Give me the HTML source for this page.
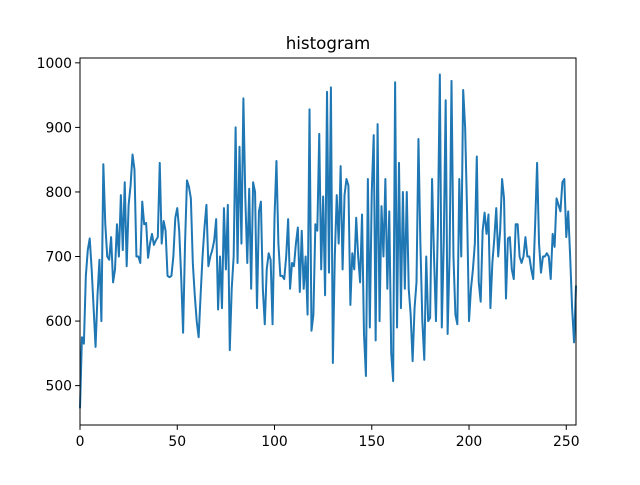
<!DOCTYPE html>
<html><head><meta charset="utf-8"><style>
body{margin:0;background:#fff;}
svg text{font-family:"DejaVu Sans","Liberation Sans",sans-serif;font-size:13.9px;fill:#000;}
</style></head><body>
<svg id="chart" width="640" height="480" xmlns="http://www.w3.org/2000/svg">
<rect width="640" height="480" fill="#fff"/>
<text x="328" y="49" text-anchor="middle" style="font-size:16.7px">histogram</text>
<g id="ticks"></g>
<path id="line" fill="none" stroke="#1f77b4" stroke-width="2" stroke-linejoin="round"/>
<rect x="80" y="58" width="496" height="367" fill="none" stroke="#000" stroke-width="1"/>
</svg>
<script>
const values = [465,575,565,670,710,728,680,620,560,640,695,600,843,750,700,695,730,660,680,750,700,795,710,815,685,780,810,858,835,700,700,690,
785,750,752,698,720,735,718,725,730,845,720,755,740,670,668,670,700,760,775,740,670,582,720,818,808,790,690,640,600,575,640,700,745,780,685,700,
710,725,758,618,700,620,775,680,780,555,650,700,900,690,870,720,945,790,690,805,650,815,800,620,770,785,650,595,680,705,695,595,760,848,720,670,
670,665,700,758,650,690,685,720,745,645,740,650,700,610,928,585,610,750,740,890,680,793,640,955,675,962,535,700,795,720,840,
680,795,820,810,625,705,680,760,700,660,765,580,515,820,590,800,888,570,905,600,778,700,820,650,770,550,507,970,590,845,620,800,650,800,650,610,538,620,660,882,720,600,540,700,600,605,820,700,600,750,982,590,720,942,580,700,972,700,610,595,820,700,958,900,770,
600,650,680,720,855,660,630,740,768,735,765,620,690,728,775,700,740,820,790,635,728,730,680,665,750,750,700,690,700,730,700,700,680,665,750,845,720,675,700,700,705,700,665,735,715,790,780,770,815,820,730,770,700,620,567,655];
const xTicks = [0,50,100,150,200,250];
const yTicks = [500,600,700,800,900,1000];
const X0=80,X1=576,Y0=425,Y1=58, xMin=0,xMax=255,yMin=439,yMax=1007.5;
const xs=v=>X0+(v-xMin)/(xMax-xMin)*(X1-X0);
const ys=v=>Y0-(v-yMin)/(yMax-yMin)*(Y0-Y1);
const ns="http://www.w3.org/2000/svg";
document.getElementById('line').setAttribute('d',values.map((v,i)=>(i?'L':'M')+xs(i).toFixed(2)+','+ys(v).toFixed(2)).join(''));
const g=document.getElementById('ticks');
xTicks.forEach(t=>{
  const l=document.createElementNS(ns,'line');
  
  
  l.setAttribute('x1',xs(t));l.setAttribute('x2',xs(t));l.setAttribute('y1',Y0);l.setAttribute('y2',Y0+4.9);l.setAttribute('stroke','#000');l.setAttribute('stroke-width','1');g.appendChild(l);
  const tx=document.createElementNS(ns,'text');
  
  
  tx.setAttribute('x',xs(t));tx.setAttribute('y',Y0+21);tx.setAttribute('text-anchor','middle');tx.textContent=t;g.appendChild(tx);
});
yTicks.forEach(t=>{
  const l=document.createElementNS(ns,'line');
  
  
  l.setAttribute('x1',X0-4.9);l.setAttribute('x2',X0);l.setAttribute('y1',ys(t));l.setAttribute('y2',ys(t));l.setAttribute('stroke','#000');l.setAttribute('stroke-width','1');g.appendChild(l);
  const tx=document.createElementNS(ns,'text');
  
  
  tx.setAttribute('x',X0-8);tx.setAttribute('y',ys(t)+5);tx.setAttribute('text-anchor','end');tx.textContent=t;g.appendChild(tx);
});
</script>
</body></html>
